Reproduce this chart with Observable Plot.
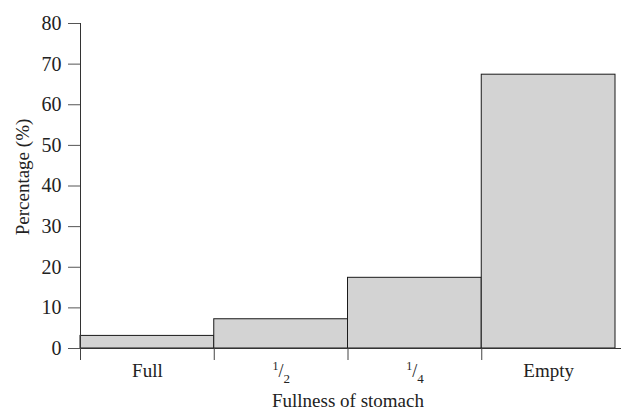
<!DOCTYPE html>
<html>
<head>
<meta charset="utf-8">
<script src="https://cdn.jsdelivr.net/npm/d3@7"></script>
<script src="https://cdn.jsdelivr.net/npm/@observablehq/plot@0.6"></script>
<style>
  body { margin: 0; background: #fff; }
</style>
</head>
<body>
<div id="chart"></div>
<script>
// Share of fish by stomach fullness class
const categories = ["Full", "1/2", "1/4", "Empty"];
const percentages = [3.1, 7.2, 17.4, 67.4];
const yTicks = [0, 10, 20, 30, 40, 50, 60, 70, 80];

// Each class occupies one unit-wide slot on a linear x scale so that
// tick marks can sit on the boundaries between neighbouring bars.
const bars = categories.map((category, i) => ({category, index: i, pct: percentages[i]}));

const chart = Plot.plot({
  width: 621,
  height: 410,
  marginLeft: 80,
  marginRight: 6,
  marginTop: 23,
  marginBottom: 62,
  style: {fontFamily: "'Liberation Serif', 'Times New Roman', serif", fontSize: "19px", color: "#222", background: "#fff"},
  x: {domain: [0, categories.length]},
  y: {domain: [0, 80]},
  marks: [
    Plot.rectY(bars, {x1: "index", x2: d => d.index + 1, y1: 0, y2: "pct", fill: "#d3d3d3", stroke: "#1a1a1a", strokeWidth: 1}),
    Plot.ruleY([0], {stroke: "#333", insetRight: -6}),
    Plot.ruleX([0], {stroke: "#333"}),
    Plot.axisY({ticks: yTicks, tickSize: 12, tickPadding: 7, label: null, stroke: "#555", fontSize: 20}),
    Plot.axisX({ticks: d3.range(categories.length), tickSize: 12, tickFormat: () => "", label: null, stroke: "#444"}),
    Plot.axisX({ticks: categories.map((c, i) => i + 0.5), tickSize: 0, tickPadding: 15, tickFormat: v => categories[Math.floor(v)], label: null}),
    Plot.text(["Fullness of stomach"], {frameAnchor: "bottom", textAnchor: "middle", lineAnchor: "bottom", dy: 58, fontSize: 19}),
    Plot.text(["Percentage (%)"], {frameAnchor: "left", textAnchor: "middle", rotate: -90, dx: -58, dy: -9, fontSize: 19})
  ]
});

// Typeset fraction labels as a raised numerator, a slash and a lowered denominator.
d3.select(chart).selectAll("text").each(function () {
  const m = /^(\d+)\/(\d+)$/.exec(this.textContent);
  if (!m) return;
  const t = d3.select(this).text(null);
  t.append("tspan").attr("font-size", 12).attr("dy", "-0.6em").text(m[1]);
  t.append("tspan").attr("font-size", 18).attr("dy", "0.4em").text("/");
  t.append("tspan").attr("font-size", 13).attr("dy", "0.5em").text(m[2]);
});

document.getElementById("chart").appendChild(chart);
</script>
</body>
</html>
